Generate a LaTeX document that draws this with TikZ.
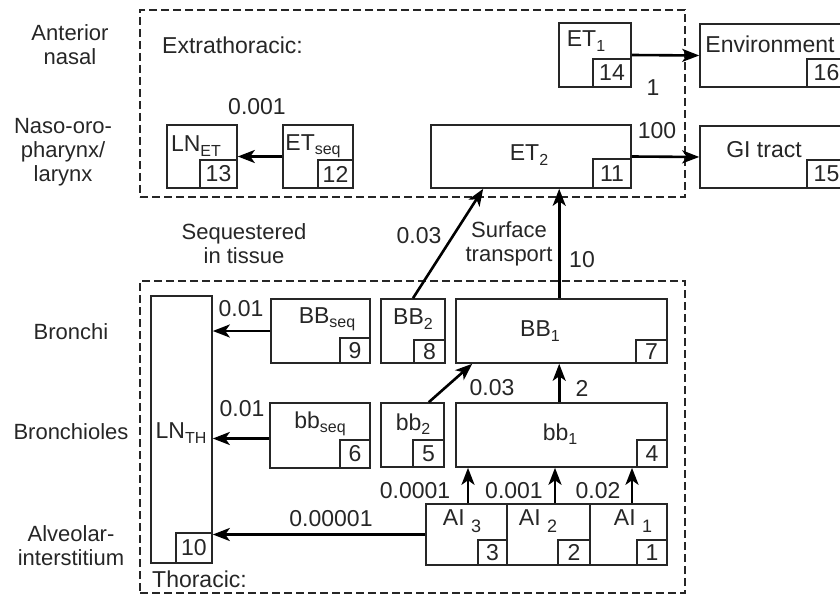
\documentclass[tikz,border=0pt]{standalone}
\usepackage{fontspec}
\setmainfont{Liberation Sans}
\usetikzlibrary{arrows.meta,fit}
\newcommand\sbs[1]{\raisebox{-0.35ex}{\fontsize{16}{16}\selectfont #1}}
\newcommand\aisub[1]{\raisebox{-0.55ex}{\fontsize{18}{18}\selectfont #1}}
\begin{document}
\begin{tikzpicture}[x=1pt,y=-1pt,
 every node/.style={font=\fontsize{23}{25}\selectfont, inner sep=0pt, text=black!85},
 bx/.style={draw=black!85, line width=1.6pt, inner sep=0pt},
 nb/.style={draw=black!85, line width=1.6pt, anchor=south east, inner sep=0pt},
 arr/.style={line width=2.6pt, -{Stealth[length=17pt,width=13pt,inset=4.5pt]}},
 region/.style={draw=black!85, line width=1.6pt, dash pattern=on 8pt off 4pt, inner sep=0pt},
 lbl/.style={align=center, font=\fontsize{22}{24}\selectfont}]
\useasboundingbox (0,0) rectangle (840,596);

% side labels
\node[lbl] (tAnt) at (70,45) {Anterior\\nasal};
\node[lbl] (tNaso) at (63,152) {Naso-oro-\\pharynx/\\larynx};
\node[lbl] (tBron) at (71,332) {Bronchi};
\node[lbl] (tBrlo) at (71,432) {Bronchioles};
\node[lbl] (tAlv) at (71,546) {Alveolar-\\interstitium};

% regions
\node[region, fit={(140,10) (685,197)}] (ext) {};
\node[region, fit={(140,281) (685,593)}] (tho) {};
\node[anchor=west] (tExt) at (162,45) {Extrathoracic:};
\node[anchor=west] (tTho) at (152,579) {Thoracic:};
\node[lbl] (tSeq) at (244,244) {Sequestered\\in tissue};
\node[lbl] (tSurf) at (509,244) {Surface\\transport};

% extrathoracic compartments
\node[bx, fit={(167,125) (237,188)}] (LNET) {};
\node[nb, minimum width=37pt, minimum height=28pt] (n13) at (LNET.south east) {13};
\node (lLNET) at (196,146) {LN\sbs{ET}};

\node[bx, fit={(283,125) (353,188)}] (ETseq) {};
\node[nb, minimum width=35pt, minimum height=28pt] (n12) at (ETseq.south east) {12};
\node (lETseq) at (313,146) {ET\sbs{seq}};

\node[bx, fit={(559,23) (631,87)}] (ET1) {};
\node[nb, minimum width=38pt, minimum height=28pt] (n14) at (ET1.south east) {14};
\node (lET1) at (586,41) {ET\sbs{1}};

\node[bx, fit={(431,125) (631,188)}] (ET2) {};
\node[nb, minimum width=38pt, minimum height=29pt] (n11) at (ET2.south east) {11};
\node (lET2) at (529,155) {ET\sbs{2}};

\node[bx, fit={(700,24) (846,87)}] (ENV) {};
\node[nb, minimum width=39pt, minimum height=28pt] (n16) at (ENV.south east) {16};
\node (lENV) at (770,44) {Environment};

\node[bx, fit={(700,126) (846,188)}] (GI) {};
\node[nb, minimum width=39pt, minimum height=28pt] (n15) at (GI.south east) {15};
\node (lGI) at (764,150) {GI tract};

% thoracic compartments
\node[bx, fit={(151,296) (212,563)}] (LNTH) {};
\node[nb, minimum width=36pt, minimum height=30pt] (n10) at (LNTH.south east) {10};
\node (lLNTH) at (181,433) {LN\sbs{TH}};

\node[bx, fit={(271,299) (370,363)}] (BBseq) {};
\node[nb, minimum width=30pt, minimum height=25pt] (n9) at (BBseq.south east) {9};
\node (lBBseq) at (327,319) {BB\sbs{seq}};

\node[bx, fit={(381,299) (445,363)}] (BB2) {};
\node[nb, minimum width=31pt, minimum height=23pt] (n8) at (BB2.south east) {8};
\node (lBB2) at (413,319) {BB\sbs{2}};

\node[bx, fit={(456,299) (667,363)}] (BB1) {};
\node[nb, minimum width=31pt, minimum height=23pt] (n7) at (BB1.south east) {7};
\node (lBB1) at (540,331) {BB\sbs{1}};

\node[bx, fit={(270,403) (370,468)}] (bbseq) {};
\node[nb, minimum width=30pt, minimum height=28pt] (n6) at (bbseq.south east) {6};
\node (lbbseq) at (320,424) {bb\sbs{seq}};

\node[bx, fit={(381,403) (444,467)}] (bb2) {};
\node[nb, minimum width=31pt, minimum height=27pt] (n5) at (bb2.south east) {5};
\node (lbb2) at (413,424) {bb\sbs{2}};

\node[bx, fit={(456,403) (667,467)}] (bb1) {};
\node[nb, minimum width=30pt, minimum height=27pt] (n4) at (bb1.south east) {4};
\node (lbb1) at (560,434) {bb\sbs{1}};

\node[bx, fit={(426,504) (507,565)}] (AI3) {};
\node[nb, minimum width=29pt, minimum height=25pt] (n3) at (AI3.south east) {3};
\node (lAI3) at (462,521) {AI\ \aisub{3}};

\node[bx, fit={(507,504) (590,565)}] (AI2) {};
\node[nb, minimum width=32pt, minimum height=25pt] (n2) at (AI2.south east) {2};
\node (lAI2) at (538,521) {AI\ \aisub{2}};

\node[bx, fit={(590,504) (667,565)}] (AI1) {};
\node[nb, minimum width=30pt, minimum height=25pt] (n1) at (AI1.south east) {1};
\node (lAI1) at (633,521) {AI\ \aisub{1}};

% connectors
\draw[arr] (ETseq.west) -- (LNET.east);
\draw[arr] (ET1.east) -- (ENV.west);
\draw[arr] (ET2.east) -- (GI.west);
\draw[arr] (BB2.north) -- ([xshift=53pt]ET2.south west);
\draw[arr] ([xshift=104pt]BB1.north west) -- ([xshift=104pt]BB1.north west |- ET2.south);
\draw[arr] (BBseq.west) -- (BBseq.west -| LNTH.east);
\draw[arr] ([yshift=-3pt]bbseq.west) -- ([yshift=-3pt]bbseq.west -| LNTH.east);
\draw[arr] ([xshift=-16pt]bb2.north east) -- ([xshift=17pt]BB1.south west);
\draw[arr] ([xshift=104pt]bb1.north west) -- ([xshift=104pt]bb1.north west |- BB1.south);
\draw[arr] ([xshift=1.5pt]AI3.north) -- ([xshift=1.5pt]AI3.north |- bb1.south);
\draw[arr] ([xshift=6.5pt]AI2.north) -- ([xshift=6.5pt]AI2.north |- bb1.south);
\draw[arr] ([xshift=3.5pt]AI1.north) -- ([xshift=3.5pt]AI1.north |- bb1.south);
\draw[arr] (AI3.west) -- (AI3.west -| LNTH.east);

% rate labels
\node (r1) at (257,107) {0.001};
\node (r2) at (653,88) {1};
\node (r3) at (657,131) {100};
\node (r4) at (419,236) {0.03};
\node (r5) at (582,260) {10};
\node (r6) at (241,309) {0.01};
\node (r7) at (242,409) {0.01};
\node (r8) at (492,388) {0.03};
\node (r9) at (582,388) {2};
\node (r10) at (415,491) {0.0001};
\node (r11) at (514,491) {0.001};
\node (r12) at (598,491) {0.02};
\node (r13) at (331,519) {0.00001};
\end{tikzpicture}
\end{document}
